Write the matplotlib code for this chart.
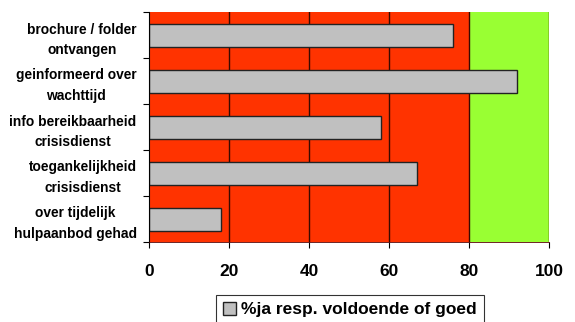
import numpy as np
import matplotlib.pyplot as plt

plt.rcParams['font.family'] = ['Liberation Sans', 'DejaVu Sans']

categories = ['brochure / folder\nontvangen',
              'geinformeerd over\nwachttijd',
              'info bereikbaarheid\ncrisisdienst',
              'toegankelijkheid\ncrisisdienst',
              'over tijdelijk\nhulpaanbod gehad']
values = [76, 92, 58, 67, 18]
xticks = [0, 20, 40, 60, 80, 100]
legend_label = '%ja resp. voldoende of goed'

fig = plt.figure(figsize=(5.75, 3.22), dpi=100)
ax = fig.add_axes([149/575, 1 - 242/322, 400/575, 230/322])

# background zones
ax.axvspan(0, 80, color='#FF3300', zorder=0, lw=0)
ax.axvspan(80, 100, color='#99FF33', zorder=0, lw=0)

# grid
for x in xticks[1:]:
    ax.axvline(x, color='#3a0a00', lw=1.0, zorder=1)

y = np.arange(len(categories))
ax.barh(y, values, height=0.5, color='#C0C0C0', edgecolor='#222222',
        linewidth=1.0, zorder=2, label=legend_label)

ax.set_xlim(0, 100)
ax.set_ylim(len(categories) - 0.5, -0.5)
ax.set_xticks(xticks)
ax.set_xticklabels([str(t) for t in xticks], fontsize=12.5, fontweight='bold')
ax.set_yticks(y)
ax.set_yticklabels(categories, fontsize=9.9, fontweight='bold',
                   multialignment='center', linespacing=1.6)
ax.set_yticks(np.arange(len(categories) + 1) - 0.5, minor=True)
ax.tick_params(axis='y', which='major', length=0, pad=9)
ax.tick_params(axis='y', which='minor', length=4, width=0.8)
ax.tick_params(axis='x', length=4, width=0.8, pad=12)

for s in ['top', 'right']:
    ax.spines[s].set_visible(False)
ax.spines['left'].set_linewidth(0.8)
ax.spines['bottom'].set_linewidth(0.6)
ax.spines['bottom'].set_color('#550000')

leg = fig.legend(loc='upper center', bbox_to_anchor=(350/575, 1 - 295/322),
                 prop={'weight': 'bold', 'size': 12.5}, frameon=True,
                 fancybox=False, edgecolor='black', handlelength=0.75,
                 handleheight=0.75, handletextpad=0.3, borderpad=0.4,
                 borderaxespad=0)
leg.get_frame().set_linewidth(0.8)

fig.savefig('out.png', dpi=100)
